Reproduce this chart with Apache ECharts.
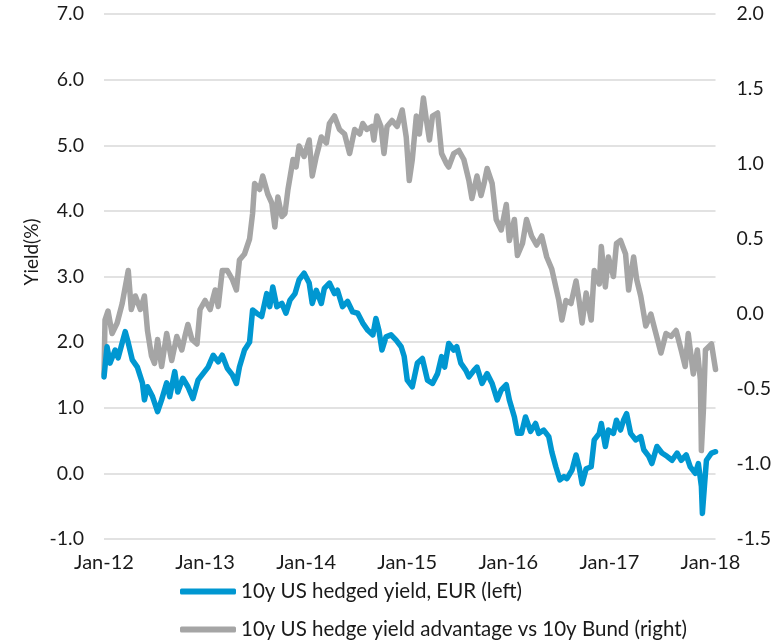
<!DOCTYPE html>
<html>
<head>
<meta charset="utf-8">
<script src="https://cdn.jsdelivr.net/npm/echarts@6/dist/echarts.min.js"></script>
<style>
  html, body { margin: 0; padding: 0; background: #fff; }
  #chart { width: 774px; height: 643px; }
</style>
</head>
<body>
<div id="chart"></div>
<script>
// x positions are decimal years (2012.00 = Jan-12)
var blueT = [
  2012.00, 2012.03, 2012.06, 2012.11, 2012.14, 2012.18, 2012.21, 2012.24, 2012.28, 2012.33,
  2012.38, 2012.40, 2012.43, 2012.48, 2012.53, 2012.57, 2012.62, 2012.65, 2012.70, 2012.73,
  2012.78, 2012.83, 2012.88, 2012.93, 2012.98, 2013.03, 2013.08, 2013.13, 2013.17, 2013.22,
  2013.27, 2013.31, 2013.34, 2013.39, 2013.44, 2013.47, 2013.51, 2013.56, 2013.61, 2013.64,
  2013.67, 2013.71, 2013.76, 2013.80, 2013.84, 2013.89, 2013.93, 2013.98, 2014.03, 2014.06,
  2014.10, 2014.15, 2014.18, 2014.23, 2014.28, 2014.31, 2014.36, 2014.41, 2014.46, 2014.51,
  2014.56, 2014.61, 2014.66, 2014.69, 2014.72, 2014.75, 2014.79, 2014.84, 2014.89, 2014.94,
  2014.97, 2015.00, 2015.05, 2015.10, 2015.15, 2015.20, 2015.25, 2015.30, 2015.34, 2015.37,
  2015.41, 2015.46, 2015.49, 2015.53, 2015.58, 2015.61, 2015.66, 2015.69, 2015.74, 2015.79,
  2015.84, 2015.89, 2015.93, 2015.98, 2016.01, 2016.06, 2016.09, 2016.13, 2016.17, 2016.22,
  2016.27, 2016.30, 2016.35, 2016.40, 2016.43, 2016.47, 2016.51, 2016.55, 2016.58, 2016.63,
  2016.67, 2016.70, 2016.73, 2016.77, 2016.82, 2016.85, 2016.90, 2016.92, 2016.96, 2016.99,
  2017.04, 2017.07, 2017.11, 2017.14, 2017.17, 2017.21, 2017.26, 2017.31, 2017.34, 2017.39,
  2017.42, 2017.47, 2017.52, 2017.57, 2017.62, 2017.67, 2017.71, 2017.76, 2017.80, 2017.85,
  2017.88, 2017.91, 2017.92, 2017.94, 2017.96, 2018.01, 2018.05
];
var blueVals = [
  1.47, 1.93, 1.68, 1.88, 1.76, 1.99, 2.16, 1.99, 1.73, 1.62,
  1.38, 1.12, 1.32, 1.17, 0.94, 1.12, 1.38, 1.17, 1.55, 1.24,
  1.45, 1.32, 1.14, 1.42, 1.52, 1.62, 1.80, 1.70, 1.80, 1.60,
  1.50, 1.37, 1.62, 1.88, 2.00, 2.49, 2.44, 2.39, 2.74, 2.54,
  2.84, 2.54, 2.59, 2.44, 2.64, 2.74, 2.95, 3.05, 2.90, 2.59,
  2.79, 2.59, 2.82, 2.90, 2.74, 2.79, 2.54, 2.62, 2.46, 2.44,
  2.29, 2.18, 2.11, 2.36, 2.18, 1.88, 2.08, 2.11, 2.03, 1.93,
  1.78, 1.42, 1.32, 1.68, 1.75, 1.42, 1.37, 1.52, 1.78, 1.62,
  1.98, 1.88, 1.93, 1.68, 1.57, 1.47, 1.57, 1.62, 1.37, 1.52,
  1.37, 1.12, 1.27, 1.35, 1.12, 0.86, 0.61, 0.61, 0.86, 0.64,
  0.76, 0.61, 0.66, 0.56, 0.33, 0.10, -0.10, -0.05, -0.08, 0.05,
  0.28, 0.10, -0.16, 0.07, 0.10, 0.51, 0.61, 0.76, 0.41, 0.66,
  0.61, 0.81, 0.66, 0.81, 0.91, 0.61, 0.51, 0.56, 0.36, 0.26,
  0.15, 0.41, 0.31, 0.26, 0.20, 0.31, 0.20, 0.28, 0.10, 0.00,
  0.15, -0.20, -0.61, -0.20, 0.20, 0.31, 0.33
];

var greyT = [
  2012.00, 2012.01, 2012.04, 2012.08, 2012.13, 2012.18, 2012.21, 2012.24, 2012.27, 2012.31,
  2012.36, 2012.40, 2012.43, 2012.47, 2012.50, 2012.53, 2012.57, 2012.62, 2012.67, 2012.72,
  2012.77, 2012.80, 2012.83, 2012.87, 2012.92, 2012.95, 2013.00, 2013.05, 2013.10, 2013.13,
  2013.17, 2013.22, 2013.27, 2013.31, 2013.34, 2013.39, 2013.44, 2013.47, 2013.49, 2013.54,
  2013.57, 2013.62, 2013.66, 2013.69, 2013.72, 2013.76, 2013.79, 2013.82, 2013.87, 2013.90,
  2013.93, 2013.98, 2014.03, 2014.06, 2014.10, 2014.15, 2014.20, 2014.23, 2014.28, 2014.33,
  2014.38, 2014.43, 2014.48, 2014.53, 2014.56, 2014.60, 2014.65, 2014.67, 2014.70, 2014.74,
  2014.77, 2014.80, 2014.85, 2014.90, 2014.95, 2014.99, 2015.02, 2015.05, 2015.09, 2015.12,
  2015.16, 2015.19, 2015.22, 2015.25, 2015.30, 2015.34, 2015.39, 2015.41, 2015.46, 2015.51,
  2015.56, 2015.61, 2015.64, 2015.69, 2015.73, 2015.76, 2015.79, 2015.84, 2015.88, 2015.93,
  2015.98, 2016.01, 2016.06, 2016.09, 2016.14, 2016.18, 2016.23, 2016.28, 2016.33, 2016.38,
  2016.43, 2016.47, 2016.50, 2016.53, 2016.57, 2016.62, 2016.67, 2016.70, 2016.73, 2016.77,
  2016.82, 2016.85, 2016.90, 2016.92, 2016.96, 2016.99, 2017.04, 2017.07, 2017.11, 2017.16,
  2017.19, 2017.24, 2017.27, 2017.31, 2017.36, 2017.41, 2017.46, 2017.51, 2017.56, 2017.61,
  2017.66, 2017.71, 2017.75, 2017.78, 2017.83, 2017.87, 2017.90, 2017.91, 2017.93, 2017.95,
  2017.98, 2018.01, 2018.05
];
var greyVals = [
  -0.40, -0.04, 0.02, -0.13, -0.06, 0.07, 0.18, 0.29, 0.03, 0.12,
  0.03, 0.12, -0.11, -0.28, -0.33, -0.17, -0.35, -0.13, -0.31, -0.15,
  -0.24, -0.15, -0.07, -0.17, -0.20, 0.03, 0.09, 0.03, 0.16, 0.05,
  0.29, 0.29, 0.23, 0.16, 0.36, 0.40, 0.50, 0.67, 0.87, 0.83,
  0.92, 0.80, 0.74, 0.58, 0.78, 0.65, 0.67, 0.83, 1.03, 0.98,
  1.12, 1.05, 1.16, 0.92, 1.05, 1.18, 1.14, 1.27, 1.32, 1.23,
  1.20, 1.07, 1.23, 1.20, 1.27, 1.23, 1.25, 1.16, 1.32, 1.25,
  1.07, 1.25, 1.29, 1.25, 1.36, 1.18, 0.89, 1.03, 1.32, 1.20,
  1.44, 1.29, 1.16, 1.32, 1.34, 1.07, 1.00, 0.98, 1.07, 1.09,
  1.03, 0.89, 0.77, 0.92, 0.79, 0.87, 0.97, 0.87, 0.63, 0.56,
  0.73, 0.49, 0.63, 0.39, 0.47, 0.63, 0.52, 0.46, 0.52, 0.38,
  0.30, 0.18, 0.09, -0.04, 0.09, 0.07, 0.22, 0.09, -0.06, 0.14,
  -0.04, 0.29, 0.20, 0.45, 0.18, 0.38, 0.25, 0.47, 0.49, 0.40,
  0.16, 0.38, 0.23, 0.12, -0.08, 0.00, -0.13, -0.26, -0.13, -0.15,
  -0.11, -0.24, -0.35, -0.13, -0.40, -0.24, -0.44, -0.91, -0.64, -0.24,
  -0.22, -0.20, -0.37
];

var leftTicks = { min: -1, max: 7, interval: 1 };
var rightTicks = { min: -1.5, max: 2, interval: 0.5 };
var seriesNames = ['10y US hedged yield, EUR (left)', '10y US hedge yield advantage vs 10y Bund (right)'];

function pairs(t, v) {
  var out = [];
  for (var i = 0; i < t.length; i++) out.push([t[i], v[i]]);
  return out;
}

var chart = echarts.init(document.getElementById('chart'));
var font = 'Lato, "Open Sans", sans-serif';
var textColor = '#1a1a1a';

function legendRow(name, top) {
  return {
    data: [name],
    left: 180,
    top: top,
    icon: 'roundRect',
    itemWidth: 56,
    itemHeight: 6,
    padding: 0,
    textStyle: { fontSize: 20.5, color: textColor, fontFamily: font }
  };
}

chart.setOption({
  animation: false,
  textStyle: { fontFamily: font },
  grid: { left: 104, right: 57, top: 14, bottom: 104 },
  legend: [legendRow(seriesNames[0], 581), legendRow(seriesNames[1], 619)],
  graphic: [{
    type: 'text',
    x: 32,
    y: 252,
    rotation: Math.PI / 2,
    style: {
      text: 'Yield(%)',
      fontSize: 19,
      fontFamily: font,
      fill: textColor,
      align: 'center',
      verticalAlign: 'middle'
    }
  }],
  xAxis: {
    type: 'value',
    min: 2012,
    max: 2018.05,
    interval: 1,
    axisLine: { show: false },
    axisTick: { show: false },
    splitLine: { show: false },
    axisLabel: {
      fontSize: 20,
      color: textColor,
      margin: 14,
      showMaxLabel: false,
      formatter: function (v) {
        if (Math.abs(v - Math.round(v)) > 0.001) return '';
        return 'Jan-' + String(Math.round(v)).slice(2);
      }
    }
  },
  yAxis: [{
    type: 'value',
    min: leftTicks.min,
    max: leftTicks.max,
    interval: leftTicks.interval,
    axisLine: { show: false },
    axisTick: { show: false },
    splitLine: { lineStyle: { color: '#d9d9d9', width: 1.5 } },
    axisLabel: {
      fontSize: 19.5,
      color: textColor,
      margin: 20,
      formatter: function (v) { return v.toFixed(1); }
    }
  }, {
    type: 'value',
    min: rightTicks.min,
    max: rightTicks.max,
    interval: rightTicks.interval,
    axisLine: { show: false },
    axisTick: { show: false },
    splitLine: { show: false },
    axisLabel: {
      fontSize: 19.5,
      color: textColor,
      margin: 21,
      formatter: function (v) { return v.toFixed(1); }
    }
  }],
  series: [{
    name: seriesNames[1],
    type: 'line',
    yAxisIndex: 1,
    symbol: 'none',
    data: pairs(greyT, greyVals),
    z: 2,
    lineStyle: { color: '#a5a5a5', width: 5.5, cap: 'round', join: 'round' },
    itemStyle: { color: '#a5a5a5' }
  }, {
    name: seriesNames[0],
    type: 'line',
    yAxisIndex: 0,
    symbol: 'none',
    data: pairs(blueT, blueVals),
    z: 3,
    lineStyle: { color: '#0097d1', width: 5.5, cap: 'round', join: 'round' },
    itemStyle: { color: '#0097d1' }
  }]
});
</script>
</body>
</html>
